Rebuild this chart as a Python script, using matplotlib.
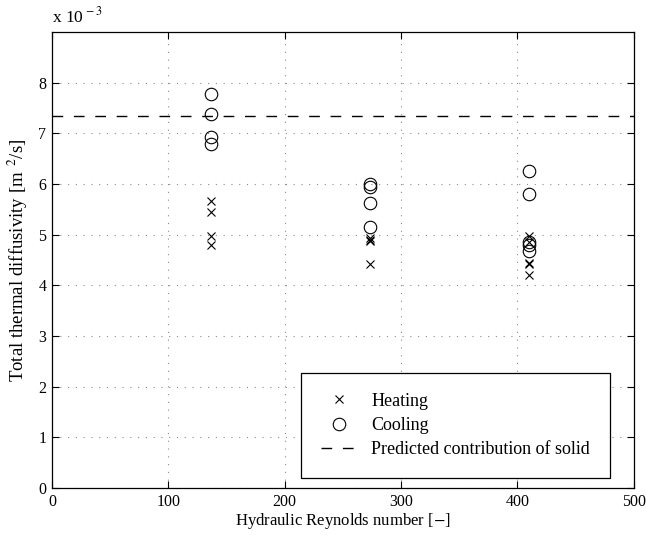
import numpy as np
import matplotlib.pyplot as plt

plt.rcParams['font.family'] = ['Liberation Serif', 'DejaVu Serif']
plt.rcParams['mathtext.fontset'] = 'stix'

# data (diffusivity in units of 1e-3 m^2/s)
re_heat = [137, 137, 137, 137, 273, 273, 273, 273, 410, 410, 410, 410, 410]
alpha_heat = [5.67, 5.45, 4.97, 4.80, 4.93, 4.90, 4.87, 4.43, 4.97, 4.85, 4.45, 4.42, 4.20]
re_cool = [137, 137, 137, 137, 273, 273, 273, 273, 410, 410, 410, 410, 410]
alpha_cool = [7.78, 7.38, 6.92, 6.78, 6.00, 5.95, 5.62, 5.15, 6.25, 5.80, 4.85, 4.80, 4.67]
alpha_solid = 7.35

fig = plt.figure(figsize=(6.46, 5.40), dpi=100)
ax = fig.add_axes([0.0805, 0.0963, 0.9005, 0.8444])

ax.plot(re_heat, alpha_heat, 'kx', markersize=6, markeredgewidth=0.8, label='Heating')
ax.plot(re_cool, alpha_cool, 'ko', markerfacecolor='none', markersize=9,
        markeredgewidth=0.8, label='Cooling')
ax.axhline(alpha_solid, color='k', linestyle=(0, (7.7, 7.7)), linewidth=1.0,
           label='Predicted contribution of solid')

ax.set_xlim(0, 500)
ax.set_ylim(0, 9)
ax.set_xticks(np.arange(0, 501, 100))
ax.set_yticks(np.arange(0, 9, 1))
ax.tick_params(direction='in', labelsize=11.5, length=5, top=True, right=True, pad=4)
ax.grid(True, linestyle=(0, (1, 6)), color='0.55', linewidth=0.8)
for s in ax.spines.values():
    s.set_linewidth(0.9)

ax.set_xlabel('Hydraulic Reynolds number [$-$]', fontsize=12, labelpad=1)
ax.set_ylabel('Total thermal diffusivity [m $^{\\,2}$/s]', fontsize=13.5, labelpad=6)
ax.text(0.0, 1.012, 'x 10$^{\\,-3}$', transform=ax.transAxes, fontsize=12.5,
        ha='left', va='bottom')

leg = ax.legend(loc='lower right', bbox_to_anchor=(0.959, 0.022), borderaxespad=0,
                fontsize=13, fancybox=False, edgecolor='k', framealpha=1,
                borderpad=1.1, handlelength=2.0, handletextpad=0.8, labelspacing=0.4)
leg.get_frame().set_linewidth(0.9)

fig.savefig('out.png', dpi=100)
